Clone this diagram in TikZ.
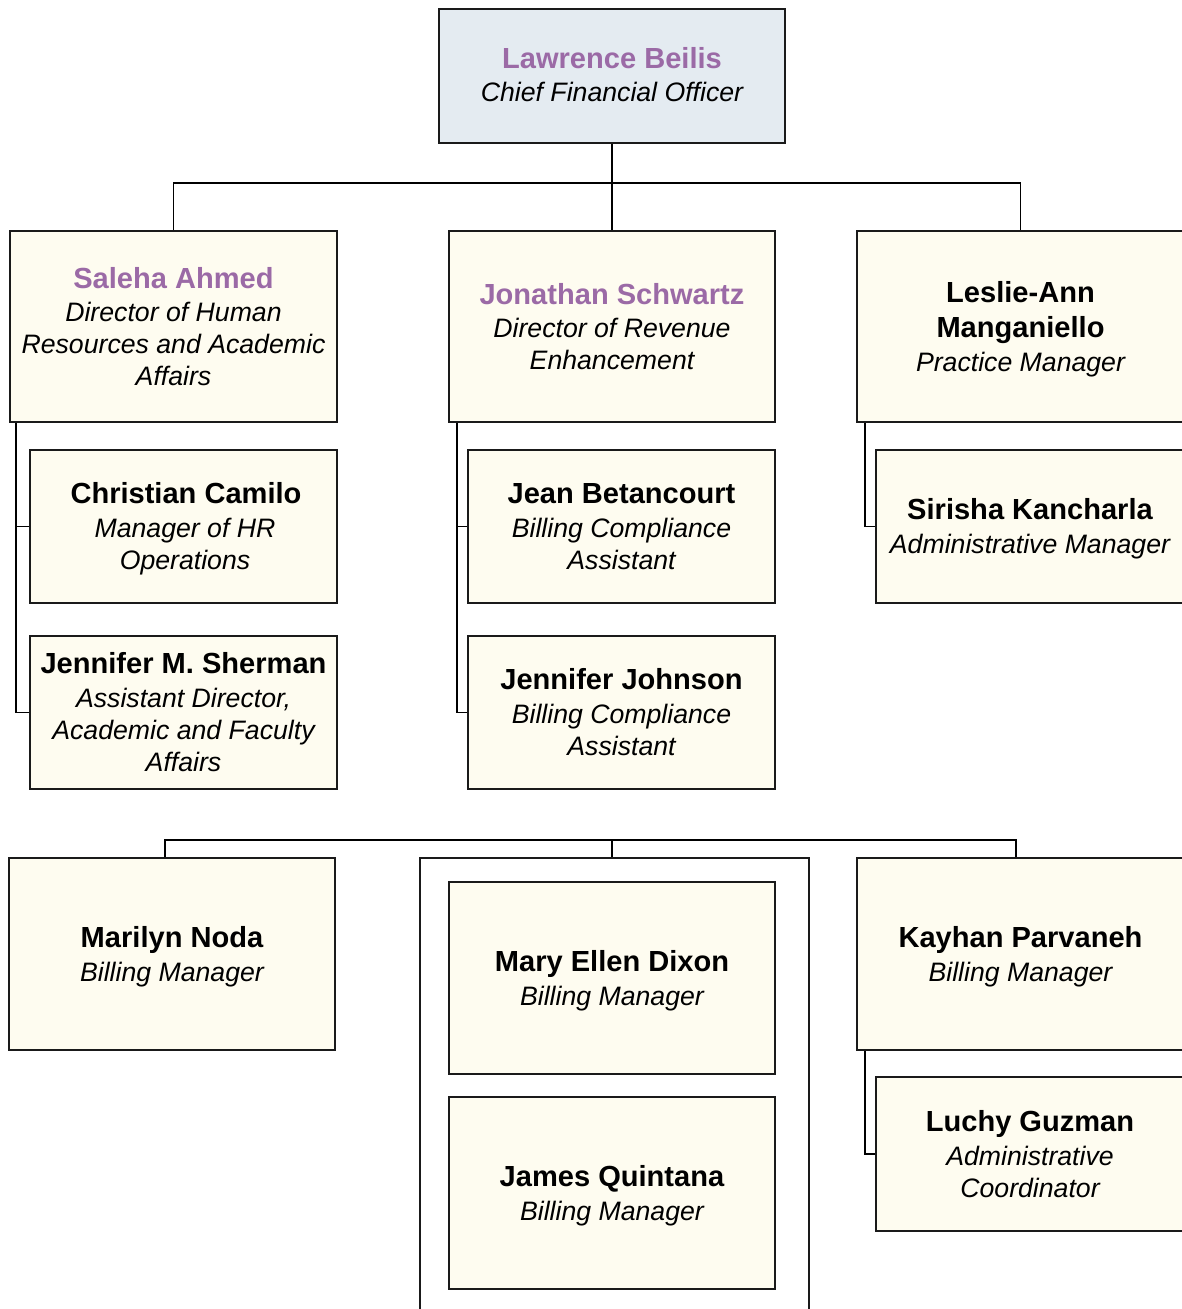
\documentclass[tikz,border=0pt]{standalone}
\usepackage{fontspec}
\setmainfont{Liberation Sans}
\usetikzlibrary{fit,calc}
\definecolor{cream}{HTML}{FEFCF0}
\definecolor{cfoblue}{HTML}{E4EBF1}
\definecolor{nmpurple}{HTML}{9B6AA6}
\definecolor{edge}{HTML}{1A1A1A}
\begin{document}
\begin{tikzpicture}[x=0.75pt,y=-0.75pt,
 box/.style={draw=edge,line width=1.4pt,fill=cream,inner sep=0pt,rectangle},
 wire/.style={draw=black,line width=1.4pt},
 nm/.style={anchor=base,inner sep=0pt,font=\fontsize{21.8}{24}\selectfont\bfseries},
 pnm/.style={nm,text=nmpurple},
 ttl/.style={anchor=base,inner sep=0pt,font=\fontsize{20}{24}\selectfont\itshape}]
\useasboundingbox (0,0) rectangle (1181,1309);
% boxes
\node[box,fill=cfoblue,fit={(439,9)(785,143)}] (cfo) {};
\node[box,fit={(10,231)(337,422)}] (saleha) {};
\node[box,fit={(449,231)(775,422)}] (jon) {};
\node[box,fit={(857,231)(1184,422)}] (leslie) {};
\node[box,fit={(30,450)(337,603)}] (christian) {};
\node[box,fit={(30,636)(337,789)}] (sherman) {};
\node[box,fit={(468,450)(775,603)}] (jean) {};
\node[box,fit={(468,636)(775,789)}] (johnson) {};
\node[box,fit={(876,450)(1184,603)}] (sirisha) {};
\node[box,fit={(9,858)(335,1050)}] (marilyn) {};
\node[draw=edge,line width=1.4pt,inner sep=0pt,fit={(420,858)(809,1330)}] (group) {};
\node[box,fit={(449,882)(775,1074)}] (dixon) {};
\node[box,fit={(449,1097)(775,1289)}] (james) {};
\node[box,fit={(857,858)(1184,1050)}] (kayhan) {};
\node[box,fit={(876,1077)(1184,1231)}] (luchy) {};
% texts
\node[pnm] (t1) at (612,69) {Lawrence Beilis};
\node[ttl] (t2) at (612,102) {Chief Financial Officer};
\node[pnm] (t3) at (173.5,288) {Saleha Ahmed};
\node[ttl] (t4) at (173.5,321) {Director of Human};
\node[ttl] (t5) at (173.5,353) {Resources and Academic};
\node[ttl] (t6) at (173.5,385) {Affairs};
\node[pnm] (t7) at (612,304) {Jonathan Schwartz};
\node[ttl] (t8) at (612,337) {Director of Revenue};
\node[ttl] (t9) at (612,369) {Enhancement};
\node[nm] (t10) at (1020.5,302) {Leslie-Ann};
\node[nm] (t11) at (1020.5,337) {Manganiello};
\node[ttl] (t12) at (1020.5,371) {Practice Manager};
\node[nm] (t13) at (186,503) {Christian Camilo};
\node[ttl] (t14) at (185,537) {Manager of HR};
\node[ttl] (t15) at (185,569) {Operations};
\node[nm] (t16) at (183.5,673) {Jennifer M. Sherman};
\node[ttl] (t17) at (183.5,707) {Assistant Director,};
\node[ttl] (t18) at (183.5,739) {Academic and Faculty};
\node[ttl] (t19) at (183.5,771) {Affairs};
\node[nm] (t20) at (621.5,503) {Jean Betancourt};
\node[ttl] (t21) at (621.5,537) {Billing Compliance};
\node[ttl] (t22) at (621.5,569) {Assistant};
\node[nm] (t23) at (621.5,689) {Jennifer Johnson};
\node[ttl] (t24) at (621.5,723) {Billing Compliance};
\node[ttl] (t25) at (621.5,755) {Assistant};
\node[nm] (t26) at (1030,519) {Sirisha Kancharla};
\node[ttl] (t27) at (1030,553) {Administrative Manager};
\node[nm] (t28) at (172,947) {Marilyn Noda};
\node[ttl] (t29) at (172,981) {Billing Manager};
\node[nm] (t30) at (612,971) {Mary Ellen Dixon};
\node[ttl] (t31) at (612,1005) {Billing Manager};
\node[nm] (t32) at (612,1186) {James Quintana};
\node[ttl] (t33) at (612,1220) {Billing Manager};
\node[nm] (t34) at (1020.5,947) {Kayhan Parvaneh};
\node[ttl] (t35) at (1020.5,981) {Billing Manager};
\node[nm] (t36) at (1030,1131) {Luchy Guzman};
\node[ttl] (t37) at (1030,1165) {Administrative};
\node[ttl] (t38) at (1030,1197) {Coordinator};
% connectors
\coordinate (busA) at (612,183);
\draw[wire] (cfo.south) -- (jon.north);
\draw[wire] (saleha.north) -- (saleha.north |- busA) -- (leslie.north |- busA) -- (leslie.north);
\coordinate (lsa) at ($(saleha.south west)+(7,0)$);
\draw[wire] (lsa) |- (sherman.west);
\draw[wire] (lsa) |- (christian.west);
\coordinate (lja) at ($(jon.south west)+(9,0)$);
\draw[wire] (lja) |- (johnson.west);
\draw[wire] (lja) |- (jean.west);
\coordinate (lle) at ($(leslie.south west)+(9,0)$);
\draw[wire] (lle) |- (sirisha.west);
\coordinate (lka) at ($(kayhan.south west)+(9,0)$);
\draw[wire] (lka) |- (luchy.west);
\coordinate (busB) at (612,840);
\coordinate (dropM) at (165,840);
\coordinate (dropK) at (1016,840);
\draw[wire] (dropM |- marilyn.north) -- (dropM) -- (dropK) -- (dropK |- kayhan.north);
\draw[wire] (busB) -- (busB |- group.north);
\end{tikzpicture}
\end{document}
